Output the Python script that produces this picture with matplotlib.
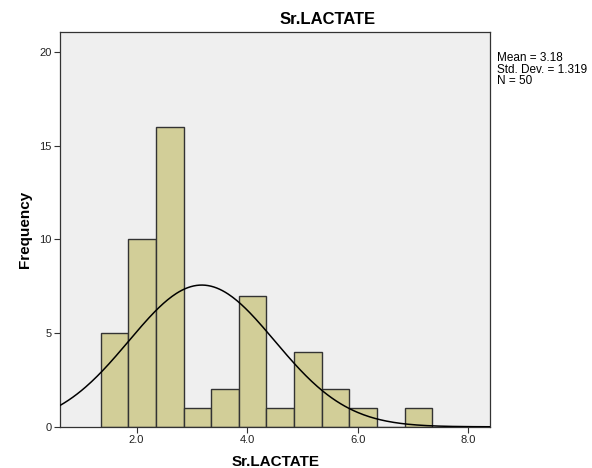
import numpy as np
import matplotlib
matplotlib.use("Agg")
import matplotlib.pyplot as plt

plt.rcParams["font.family"] = ["Liberation Sans", "DejaVu Sans"]

# histogram of Sr.LACTATE (SPSS style)
bin_edges = [1.35, 1.85, 2.35, 2.85, 3.35, 3.85, 4.35, 4.85, 5.35, 5.85, 6.35, 6.85, 7.35]
counts = [5, 10, 16, 1, 2, 7, 1, 4, 2, 1, 0, 1]
mean, sd, n = 3.18, 1.319, 50
x_ticks = [2.0, 4.0, 6.0, 8.0]
y_ticks = [0, 5, 10, 15, 20]

BAR = "#D2CE98"
BG = "#EFEFEF"

fig = plt.figure(figsize=(5.92, 4.68), dpi=100)
ax = fig.add_axes([0.101, 0.088, 0.727, 0.844])
ax.set_facecolor(BG)

edges = np.array(bin_edges)
widths = np.diff(edges)
ax.bar(edges[:-1], counts, width=widths, align="edge", color=BAR,
       edgecolor="#333333", linewidth=1.0, zorder=2)

# normal curve scaled to counts
xs = np.linspace(0.61, 8.40, 300)
bw = widths[0]
ys = n * bw / (sd * np.sqrt(2 * np.pi)) * np.exp(-0.5 * ((xs - mean) / sd) ** 2)
ax.plot(xs, ys, color="black", linewidth=1.1, zorder=3)

ax.set_xlim(0.61, 8.40)
ax.set_ylim(0, 21.07)
ax.set_xticks(x_ticks)
ax.set_xticklabels([f"{v:.1f}" for v in x_ticks])
ax.set_yticks(y_ticks)
ax.tick_params(axis="both", labelsize=8, length=4, width=0.8, color="#333333",
               labelcolor="#222222", pad=2)
for s in ax.spines.values():
    s.set_color("#333333")
    s.set_linewidth(0.9)

# SPSS centres the title over the whole chart area, not the plot frame
fig.text(0.553, 0.958, "Sr.LACTATE", fontsize=12, fontweight="bold",
         ha="center", va="center")
fig.text(0.465, 0.013, "Sr.LACTATE", fontsize=11, fontweight="bold",
         ha="center", va="center")
fig.text(0.042, 0.51, "Frequency", fontsize=11, fontweight="bold",
         ha="center", va="center", rotation=90)

fig.text(0.840, 0.888, f"Mean = {mean:.2f}\nStd. Dev. = {sd:.3f}\nN = {n}",
         fontsize=8.5, va="top", ha="left", linespacing=0.9)

fig.savefig("out.png", dpi=100)
